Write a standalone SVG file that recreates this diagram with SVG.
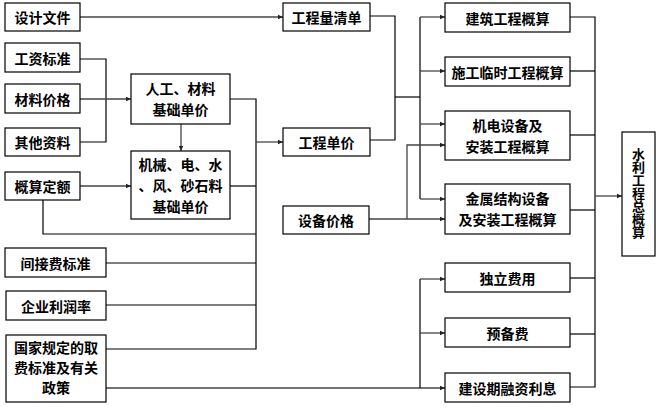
<svg xmlns="http://www.w3.org/2000/svg" width="656" height="419" viewBox="0 0 656 419">
<defs>
<marker id="ah" markerWidth="6" markerHeight="6" refX="5" refY="3" orient="auto" markerUnits="userSpaceOnUse">
<path d="M0,0.8 L5,3 L0,5.2 Z" fill="#222"/>
</marker>
<style>
.b{fill:#fff;stroke:#000;stroke-width:1.2}
.t{font-family:"Noto Sans CJK SC","Noto Sans CJK JP",sans-serif;font-size:14px;font-weight:bold;fill:#000;text-anchor:middle;dominant-baseline:central}
.v{font-family:"Noto Sans CJK SC","Noto Sans CJK JP",sans-serif;font-size:13px;font-weight:bold;fill:#000;text-anchor:middle;writing-mode:vertical-rl}
.l{fill:none;stroke:#000;stroke-width:1.2}
.a{fill:none;stroke:#444;stroke-width:1.3;marker-end:url(#ah)}
</style>
</defs>
<rect width="656" height="419" fill="#fff"/>
<g id="connectors">
<path class="a" d="M80,17 H283"/>
<path class="l" d="M80,59 H106 V142 H80"/>
<path class="a" d="M80,99 H131"/>
<path class="a" d="M181,124 V151"/>
<path class="a" d="M80,186 H131"/>
<path class="l" d="M230,99 H256 V349 H106"/>
<path class="l" d="M230,186 H256"/>
<path class="l" d="M43,200 V234 H256"/>
<path class="l" d="M106,263 H256"/>
<path class="l" d="M106,305 H256"/>
<path class="a" d="M256,142 H283"/>
<path class="l" d="M370,16 H395 V140 H370"/>
<path class="l" d="M395,97 H420"/>
<path class="l" d="M420,17 V199"/>
<path class="a" d="M420,17 H445"/>
<path class="a" d="M420,71 H445"/>
<path class="a" d="M420,124 H445"/>
<path class="a" d="M420,199 H445"/>
<path class="a" d="M369,219 H445"/>
<path class="a" d="M407,219 V145 H445"/>
<path class="a" d="M106,388 H445"/>
<path class="l" d="M420,279 V388"/>
<path class="a" d="M420,279 H445"/>
<path class="a" d="M420,333 H445"/>
<path class="l" d="M570,17 H595 V387 H570"/>
<path class="l" d="M570,71 H595"/>
<path class="l" d="M570,135 H595"/>
<path class="l" d="M570,210 H595"/>
<path class="l" d="M570,278 H595"/>
<path class="l" d="M570,334 H595"/>
<path class="a" d="M595,196 H622"/>
</g>
<g id="n1"><rect class="b" x="5" y="3" width="75" height="28"/><text class="t" x="42.5" y="17">设计文件</text></g>
<g id="n2"><rect class="b" x="5" y="43" width="75" height="29"/><text class="t" x="42.5" y="58">工资标准</text></g>
<g id="n3"><rect class="b" x="5" y="84" width="75" height="29"/><text class="t" x="42.5" y="99">材料价格</text></g>
<g id="n4"><rect class="b" x="5" y="128" width="75" height="28"/><text class="t" x="42.5" y="142">其他资料</text></g>
<g id="n5"><rect class="b" x="5" y="172" width="75" height="28"/><text class="t" x="42.5" y="186">概算定额</text></g>
<g id="n6"><rect class="b" x="131" y="74" width="99" height="50"/><text class="t" x="180.5" y="88">人工、材料</text><text class="t" x="180.5" y="109">基础单价</text></g>
<g id="n7"><rect class="b" x="131" y="151" width="99" height="68"/><text class="t" x="180.5" y="164">机械、电、水</text><text class="t" x="180.5" y="185">、风、砂石料</text><text class="t" x="180.5" y="206">基础单价</text></g>
<g id="n8"><rect class="b" x="5" y="248" width="101" height="29"/><text class="t" x="55.5" y="263">间接费标准</text></g>
<g id="n9"><rect class="b" x="6" y="291" width="100" height="29"/><text class="t" x="56" y="306">企业利润率</text></g>
<g id="n10"><rect class="b" x="6" y="335" width="100" height="67"/><text class="t" x="56" y="347">国家规定的取</text><text class="t" x="56" y="367">费标准及有关</text><text class="t" x="56" y="387">政策</text></g>
<g id="n11"><rect class="b" x="283" y="3" width="87" height="28"/><text class="t" x="326.5" y="17">工程量清单</text></g>
<g id="n12"><rect class="b" x="283" y="128" width="87" height="28"/><text class="t" x="326.5" y="142">工程单价</text></g>
<g id="n13"><rect class="b" x="283" y="206" width="86" height="28"/><text class="t" x="326" y="220">设备价格</text></g>
<g id="n14"><rect class="b" x="445" y="3" width="125" height="29"/><text class="t" x="507.5" y="18">建筑工程概算</text></g>
<g id="n15"><rect class="b" x="445" y="57" width="125" height="29"/><text class="t" x="507.5" y="72">施工临时工程概算</text></g>
<g id="n16"><rect class="b" x="445" y="111" width="125" height="49"/><text class="t" x="507.5" y="125">机电设备及</text><text class="t" x="507.5" y="146">安装工程概算</text></g>
<g id="n17"><rect class="b" x="445" y="184" width="125" height="50"/><text class="t" x="507.5" y="198">金属结构设备</text><text class="t" x="507.5" y="219">及安装工程概算</text></g>
<g id="n18"><rect class="b" x="445" y="263" width="125" height="29"/><text class="t" x="507.5" y="278">独立费用</text></g>
<g id="n19"><rect class="b" x="445" y="318" width="125" height="29"/><text class="t" x="507.5" y="333">预备费</text></g>
<g id="n20"><rect class="b" x="445" y="373" width="125" height="29"/><text class="t" x="507.5" y="388">建设期融资利息</text></g>
<g id="n21"><rect class="b" x="622" y="132" width="33" height="124"/>
<text class="v" x="638.5" y="193">水利工程总概算</text>
</g>
</svg>
